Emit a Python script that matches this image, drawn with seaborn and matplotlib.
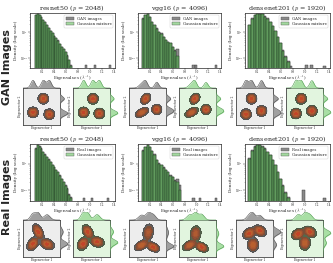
import numpy as np
import pandas as pd
import seaborn as sns
import matplotlib.pyplot as plt
from matplotlib.colors import ListedColormap
from matplotlib.patches import Patch

# ---- data ----
models = ["resnet50", "vgg16", "densenet201"]
dims = [2048, 4096, 1920]
row_titles = ["GAN Images", "Real Images"]
row_sources = ["GAN images", "Real images"]

# histogram bins in eigenvalue units
bin_start = {"resnet50": 0.084, "vgg16": 0.07, "densenet201": 0.056}
bin_width = {"resnet50": 0.031, "vgg16": 0.039, "densenet201": 0.043}

# densities per bin (log y axis), GAN row
gan_hist = {
    "resnet50": [4.74, 4.99, 4.74, 3.9, 3.05, 2.38, 1.86, 1.46, 1.14, 0.93,
                 0.73, 0.60, 0.47, 0.35, 0.27, 0.22, 0.175, 0.13, 0.084, 0.054],
    "vgg16": [3.4, 4.5, 5.2, 3.9, 2.5, 1.86, 1.39, 1.04, 0.89, 0.66,
              0.49, 0.42, 0.37, 0.27, 0.20, 0.21],
    "densenet201": [1.86, 3.4, 4.5, 5.2, 5.2, 5.0, 4.1, 3.4, 2.5, 1.69,
                    1.14, 0.66, 0.37, 0.20, 0.112, 0.072, 0.046],
}
gan_gmm = {
    "resnet50": [4.6, 4.9, 4.6, 3.8, 3.0, 2.4, 1.8, 1.45, 1.1, 0.9,
                 0.72, 0.58, 0.46, 0.34, 0.26, 0.21, 0.17, 0.12, 0.08, 0.05],
    "vgg16": [3.3, 4.4, 5.0, 3.8, 2.45, 1.8, 1.35, 1.0, 0.86, 0.64,
              0.48, 0.41, 0.36, 0.26, 0.19, 0.12],
    "densenet201": [1.8, 3.3, 4.4, 5.1, 5.1, 4.9, 4.0, 3.3, 2.45, 1.65,
                    1.1, 0.64, 0.36, 0.19, 0.105, 0.068],
}
gan_out_eig = {"resnet50": [0.94, 1.10, 1.33], "vgg16": [0.96, 1.0, 1.33],
               "densenet201": [1.04, 1.10, 1.32]}
gan_out_den = {"resnet50": [0.052, 0.052, 0.052], "vgg16": [0.052, 0.052, 0.052],
               "densenet201": [0.052, 0.052, 0.05]}

# Real row
real_hist = {
    "resnet50": [3.8, 5.0, 4.5, 3.8, 2.8, 2.27, 1.86, 1.46, 1.19, 0.93,
                 0.77, 0.60, 0.49, 0.37, 0.27, 0.21, 0.16, 0.118, 0.076, 0.056],
    "vgg16": [3.2, 4.3, 5.0, 4.3, 3.05, 2.27, 1.39, 1.04, 0.89, 0.73,
              0.60, 0.49, 0.37, 0.32, 0.24, 0.27, 0.16],
    "densenet201": [1.6, 3.2, 4.5, 5.0, 5.0, 4.5, 3.8, 2.8, 2.15, 1.39,
                    0.89, 0.49, 0.27, 0.16, 0.088, 0.056],
}
real_gmm = {
    "resnet50": [3.7, 4.9, 4.4, 3.7, 2.75, 2.2, 1.8, 1.42, 1.15, 0.9,
                 0.75, 0.58, 0.47, 0.36, 0.26, 0.2, 0.15, 0.11, 0.07, 0.05],
    "vgg16": [3.1, 4.2, 4.9, 4.2, 3.0, 2.2, 1.35, 1.0, 0.86, 0.7,
              0.58, 0.47, 0.36, 0.31, 0.23, 0.2, 0.1],
    "densenet201": [1.55, 3.1, 4.4, 4.9, 4.9, 4.4, 3.7, 2.7, 2.1, 1.35,
                    0.86, 0.47, 0.26, 0.15, 0.08, 0.05],
}
real_out_eig = {"resnet50": [0.91, 1.02, 1.32], "vgg16": [0.96, 1.05, 1.35],
                "densenet201": [0.98, 1.32]}
real_out_den = {"resnet50": [0.052, 0.052, 0.052], "vgg16": [0.052, 0.052, 0.052],
                "densenet201": [0.107, 0.05]}

# 2-D projections: mixture components (mean x, mean y, sd x, sd y, corr)
gan_blobs = {
    "resnet50": [(0.55, 0.71, .058, .058, 0), (0.27, 0.34, .058, .058, 0), (0.71, 0.29, .058, .058, 0)],
    "vgg16": [(0.45, 0.71, .055, .06, .3), (0.35, 0.34, .075, .055, .5), (0.75, 0.42, .055, .055, 0)],
    "densenet201": [(0.42, 0.71, .058, .058, 0), (0.27, 0.29, .058, .058, 0), (0.69, 0.38, .058, .058, 0)],
}
gan_gmm_blobs = {
    "resnet50": [(0.54, 0.71, .058, .058, 0), (0.29, 0.34, .058, .058, 0), (0.71, 0.31, .058, .058, 0)],
    "vgg16": [(0.43, 0.71, .055, .06, .3), (0.34, 0.34, .075, .055, .5), (0.73, 0.42, .055, .055, 0)],
    "densenet201": [(0.41, 0.71, .058, .058, 0), (0.27, 0.31, .058, .058, 0), (0.70, 0.38, .058, .058, 0)],
}
real_blobs = {
    "resnet50": [(0.41, 0.68, .062, .085, -.5), (0.27, 0.36, .067, .075, .4), (0.65, 0.35, .08, .062, -.3)],
    "vgg16": [(0.52, 0.66, .062, .1, .2), (0.34, 0.32, .08, .062, .5), (0.65, 0.27, .072, .055, -.4)],
    "densenet201": [(0.64, 0.71, .072, .062, -.3), (0.36, 0.64, .072, .062, .3), (0.46, 0.33, .062, .08, 0)],
}
real_gmm_blobs = {
    "resnet50": [(0.40, 0.68, .062, .077, -.4), (0.27, 0.36, .062, .072, .3), (0.65, 0.41, .077, .058, -.2)],
    "vgg16": [(0.45, 0.63, .062, .09, .1), (0.29, 0.32, .08, .062, .5), (0.61, 0.27, .072, .055, -.4)],
    "densenet201": [(0.64, 0.68, .072, .062, -.3), (0.33, 0.62, .072, .062, .3), (0.51, 0.38, .062, .08, 0)],
}

GRAY = "#8a8a8a"
GREEN = "#5a9f57"

sns.set_theme(style="ticks")
plt.rcParams["font.family"] = ["DejaVu Serif"]
plt.rcParams["mathtext.fontset"] = "cm"

fig = plt.figure(figsize=(3.33, 2.63), dpi=100)
W, H = 333, 263


def box(x0, y0, x1, y1):
    return [x0 / W, 1 - y1 / H, (x1 - x0) / W, (y1 - y0) / H]


def draw_hist(ax, model, dim, hist, gmm, out_eig, out_den, src):
    w, s = bin_width[model], bin_start[model]
    edges = list(np.arange(s, 1.45, w))
    data = pd.DataFrame({
        "eig": list(s + w * (np.arange(len(hist)) + 0.5)) + out_eig,
        "density": hist + out_den,
    })
    fit = pd.DataFrame({"eig": s + w * (np.arange(len(gmm)) + 0.5), "density": gmm})
    sns.histplot(data, x="eig", weights="density", bins=edges, color=GRAY, alpha=1,
                 edgecolor="#2e2e2e", linewidth=0.3, ax=ax)
    sns.histplot(fit, x="eig", weights="density", bins=edges, color=GREEN, alpha=0.85,
                 edgecolor="#1c301c", linewidth=0.3, ax=ax)
    ax.set_yscale("log")
    ax.set_xlim(0, 1.42)
    ax.set_ylim(0.04, 5.5)
    ax.set_xticks([0.2, 0.4, 0.6, 0.8, 1.0, 1.2, 1.4])
    ax.tick_params(labelsize=2, length=1.2, width=0.3, pad=0.5)
    ax.tick_params(which="minor", length=0.7, width=0.2)
    for sp in ax.spines.values():
        sp.set_linewidth(0.5)
    ax.set_title(f"{model} ($p$ = {dim})", fontsize=4.6, pad=2)
    ax.set_xlabel("Eigenvalues ($\\lambda^{-1}$)", fontsize=3)
    ax.xaxis.set_label_coords(0.5, -0.09)
    ax.set_ylabel("Density (log scale)", fontsize=3, labelpad=0.8)
    ax.legend(handles=[Patch(facecolor=GRAY, edgecolor="#555555", lw=0.3),
                       Patch(facecolor="#a3d99f", edgecolor="#555555", lw=0.3)],
              labels=[src, "Gaussian mixture"], loc="upper right", fontsize=2.8,
              handlelength=2.2, handleheight=1.0, borderpad=0.4, labelspacing=0.35,
              handletextpad=0.6, framealpha=1,
              edgecolor="#cccccc").get_frame().set_linewidth(0.3)


def mixture_grid(blobs, g):
    X, Y = np.meshgrid(g, g)
    Z = np.zeros_like(X)
    for mx, my, sx, sy, r in blobs:
        dx, dy = (X - mx) / sx, (Y - my) / sy
        q = (dx ** 2 - 2 * r * dx * dy + dy ** 2) / (1 - r ** 2)
        Z += np.exp(-q / 2) / (sx * sy * np.sqrt(1 - r ** 2))
    return X, Y, Z


def marginal(blobs, g, axis):
    out = np.zeros_like(g)
    for b in blobs:
        m, sd = (b[0], b[2]) if axis == 0 else (b[1], b[3])
        out += np.exp(-0.5 * ((g - m) / sd) ** 2) / sd
    return out


def draw_joint(x0, y0, size, blobs, kind):
    if kind == "gmm":
        bg, ring, mfill, medge = "#e2f5df", "#56684c", "#a9dfa5", "#4c9a4c"
    else:
        bg, ring, mfill, medge = "#ededed", "#636060", "#a0a0a0", "#4f4f4f"
    ax = fig.add_axes(box(x0, y0, x0 + size, y0 + size))
    g = np.linspace(0, 1, 240)
    X, Y, Z = mixture_grid(blobs, g)
    zmax = Z.max()
    levels = zmax * np.array([0.04, 0.14, 0.28, 0.42, 0.56, 0.7, 0.86, 1.01])
    cmap = ListedColormap([ring, "#7e4f36", "#954f33", "#a55633", "#b05b31", "#b8602f", "#c2452a"])
    ax.set_facecolor(bg)
    ax.contourf(X, Y, Z, levels=levels, cmap=cmap)
    ax.contour(X, Y, Z, levels=levels[:1], colors="#444444", linewidths=0.3)
    ax.set_xlim(0, 1)
    ax.set_ylim(0, 1)
    ax.set_xticks([])
    ax.set_yticks([])
    for sp in ax.spines.values():
        sp.set_linewidth(0.6)
        sp.set_color("#444444")
    ax.set_xlabel("Eigenvector 1", fontsize=2.2, labelpad=0.8)
    ax.set_ylabel("Eigenvector 2", fontsize=2.2, labelpad=0.8)

    top = fig.add_axes(box(x0, y0 - 8, x0 + size, y0))
    mx = marginal(blobs, g, 0)
    top.fill_between(g, 0, mx, color=mfill, lw=0)
    top.plot(g, mx, color=medge, lw=0.4)
    top.set_xlim(0, 1)
    top.set_ylim(0, mx.max() * 1.02)
    top.axis("off")

    right = fig.add_axes(box(x0 + size, y0, x0 + size + 8, y0 + size))
    my = marginal(blobs, g, 1)
    right.fill_betweenx(g, 0, my, color=mfill, lw=0)
    right.plot(my, g, color=medge, lw=0.4)
    right.set_ylim(0, 1)
    right.set_xlim(0, my.max() * 1.02)
    right.axis("off")


hist_x = [(30, 115), (138, 221), (245, 330)]
joint_x = [(23, 73), (129, 179), (236, 286)]
rows = [
    dict(hy=(13, 68), jy=88, hist=gan_hist, gmm=gan_gmm, oe=gan_out_eig, od=gan_out_den,
         blobs=gan_blobs, gblobs=gan_gmm_blobs),
    dict(hy=(144, 201), jy=220, hist=real_hist, gmm=real_gmm, oe=real_out_eig, od=real_out_den,
         blobs=real_blobs, gblobs=real_gmm_blobs),
]

for ri, row in enumerate(rows):
    for mi, model in enumerate(models):
        ax = fig.add_axes(box(hist_x[mi][0], row["hy"][0], hist_x[mi][1], row["hy"][1]))
        draw_hist(ax, model, dims[mi], row["hist"][model], row["gmm"][model],
                  row["oe"][model], row["od"][model], row_sources[ri])
        draw_joint(joint_x[mi][0], row["jy"], 37, row["blobs"][model], "data")
        draw_joint(joint_x[mi][1], row["jy"], 37, row["gblobs"][model], "gmm")

fig.text(7.5 / W, 1 - 67 / H, row_titles[0], rotation=90, ha="center", va="center",
         fontsize=8, fontweight="bold", family="DejaVu Sans")
fig.text(7.5 / W, 1 - 197 / H, row_titles[1], rotation=90, ha="center", va="center",
         fontsize=8, fontweight="bold", family="DejaVu Sans")

fig.savefig("out.png", dpi=100)
